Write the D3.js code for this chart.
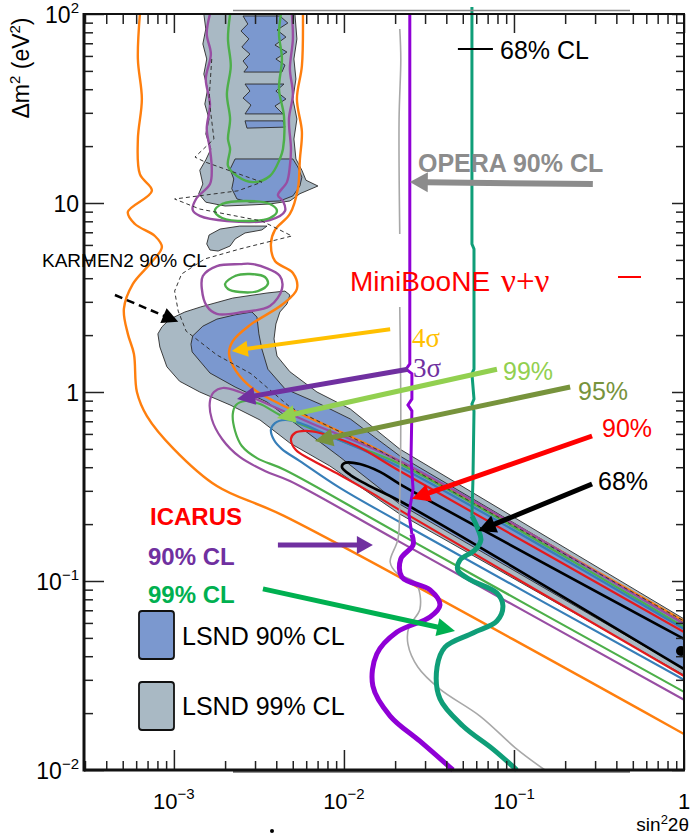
<!DOCTYPE html>
<html><head><meta charset="utf-8">
<script src="https://cdn.jsdelivr.net/npm/d3@7"></script>
<style>
html,body{margin:0;padding:0;background:#fff;}
svg{display:block;font-family:"Liberation Sans",Arial,Helvetica,sans-serif;}
</style></head><body>
<svg id="chart" width="690" height="835"></svg>
<script>
// ---- axes ----
const xDomain = [0.000296, 1];
const yDomain = [0.01, 100];
const xMajorTicks = [1e-3, 1e-2, 1e-1, 1];
const xTickLabels = [["10", "\u22123"], ["10", "\u22122"], ["10", "\u22121"], ["1", ""]];
const yMajorTicks = [0.01, 0.1, 1, 10, 100];
const yTickLabels = [["10", "\u22122"], ["10", "\u22121"], ["1", ""], ["10", ""], ["10", "2"]];

// ---- LSND allowed regions [sin^2 2theta, dm^2] ----
const lsnd99Band = [[0.000805,2.03],[0.00085,2.21],[0.000947,2.43],[0.00116,2.65],[0.00144,2.82],[0.00222,3.14],[0.00353,3.34],[0.0045,3.42],[0.00481,3.26],[0.00462,2.92],[0.0042,2.65],[0.00398,2.29],[0.00388,1.91],[0.00404,1.55],[0.00481,1.28],[0.00694,1.0],[0.0109,0.813],[0.0213,0.499],[1,0.063],[1,0.0318],[0.0213,0.226],[0.00827,0.406],[0.00481,0.537],[0.00321,0.711],[0.00214,0.854],[0.00142,1.0],[0.00108,1.14],[0.000909,1.36],[0.000827,1.73]];
const lsnd99Column = [[0.0015,100],[0.00154,83.3],[0.00148,69.4],[0.00156,57.8],[0.0015,48.1],[0.00158,40.1],[0.00152,33.4],[0.00161,27.8],[0.00154,23.2],[0.00165,19.3],[0.00154,16.9],[0.00142,14.9],[0.00148,12.6],[0.0014,11.2],[0.00154,10.1],[0.002,9.64],[0.0028,9.76],[0.00367,9.88],[0.00481,10.25],[0.00551,11.2],[0.00703,12.3],[0.00598,13.2],[0.00566,14.9],[0.00522,17.1],[0.00508,21.8],[0.00529,27.8],[0.00501,35.5],[0.00522,45.3],[0.00508,57.8],[0.00529,73.8],[0.00515,100]];
const lsnd99Island = [[0.00156,6.07],[0.00161,6.77],[0.00187,7.28],[0.00244,7.55],[0.00353,7.55],[0.00329,7.2],[0.00262,6.94],[0.00229,6.45],[0.00214,5.92],[0.00182,5.57],[0.00163,5.64]];
const lsnd90Band = [[0.00126,1.79],[0.00129,1.98],[0.00148,2.23],[0.00179,2.43],[0.00229,2.56],[0.00288,2.65],[0.00308,2.49],[0.00316,2.03],[0.00329,1.69],[0.00357,1.32],[0.0045,1.04],[0.00722,0.864],[0.0109,0.72],[0.0213,0.459],[1,0.06],[1,0.0342],[0.0213,0.255],[0.00947,0.453],[0.00551,0.653],[0.00353,0.885],[0.00229,1.063],[0.00163,1.26],[0.00128,1.63]];
const lsnd90BlockA = [[0.00255,97.6],[0.00272,88.5],[0.00248,81.3],[0.00276,73.8],[0.00251,66.9],[0.0028,61.4],[0.00255,56.4],[0.00272,52.4],[0.00258,49.3],[0.00432,49.3],[0.0045,53.7],[0.00398,57.8],[0.00462,62.9],[0.00393,68.5],[0.00456,75.5],[0.00404,82.3],[0.00468,89.6],[0.0042,97.6]];
const lsnd90BlockB = [[0.00262,42.6],[0.0028,39.1],[0.00255,35.9],[0.00284,33.0],[0.00262,29.6],[0.00438,29.6],[0.00393,32.6],[0.00456,35.5],[0.00398,39.1],[0.00444,42.6]];
const lsnd90BlockC = [[0.00262,27.2],[0.00438,27.2],[0.0045,25.2],[0.00269,24.9]];
const lsnd90BlockD = [[0.00229,17.1],[0.00214,15.1],[0.00225,13.4],[0.00219,11.9],[0.00235,10.5],[0.0028,10.1],[0.0042,10.25],[0.00501,10.9],[0.00551,12.3],[0.00566,13.7],[0.00536,15.5],[0.00501,17.1]];

// ---- MiniBooNE nu + nubar contours ----
const mb4sigmaOuter = [[0.000631,100],[0.000614,57.8],[0.000648,35.5],[0.000614,21.8],[0.000631,14.2],[0.000742,11.6],[0.000536,8.96],[0.00059,7.74],[0.000773,6.69],[0.00085,5.85],[0.000722,4.75],[0.000574,3.73],[0.000508,2.75],[0.000536,2.03],[0.000582,1.59],[0.000606,1.0],[0.000694,0.746],[0.001,0.499],[0.00179,0.318],[0.00444,0.221],[1,0.0155]];
const mb4sigmaInner = [[0.00574,100],[0.00566,53.1],[0.00529,35.5],[0.00566,23.8],[0.00551,17.1],[0.00536,11.9],[0.00481,8.75],[0.00393,7.2],[0.00372,6.07],[0.00393,4.93],[0.00501,4.26],[0.00529,3.51],[0.00438,2.92],[0.0028,2.26],[0.00222,1.86],[0.00211,1.59],[0.00232,1.29],[0.00292,1.04],[0.0042,0.864],[0.00827,0.653],[0.0163,0.488],[1,0.0614]];
const mb3sigmaColumn = [[0.00163,100],[0.00156,78.4],[0.00165,61.4],[0.00154,45.3],[0.00163,33.4],[0.00156,24.6],[0.00163,19.3],[0.00167,15.1],[0.00163,12.6],[0.00135,10.5],[0.00129,9.18],[0.00142,8.54],[0.00205,8.03],[0.00367,8.13],[0.0045,9.07],[0.00438,10.25],[0.00409,11.0],[0.00462,12.9],[0.00481,15.7],[0.00488,19.3],[0.00475,27.8],[0.00501,37.7],[0.00481,51.2],[0.00501,73.8],[0.00494,100]];
const mb3sigmaLoop = [[0.00244,4.75],[0.00292,4.75],[0.0042,4.11],[0.00432,3.51],[0.00367,2.85],[0.00255,2.65],[0.00179,2.59],[0.00156,2.85],[0.00146,3.51],[0.00148,4.11],[0.00179,4.64]];
const mb3sigmaBand = [[1,0.0592],[0.0213,0.431],[0.00657,0.677],[0.00334,0.885],[0.00244,1.0],[0.00194,1.05],[0.00172,1.0],[0.00163,0.896],[0.00167,0.72],[0.00192,0.564],[0.00244,0.453],[0.00343,0.382],[0.00481,0.338],[0.0213,0.161],[1,0.0235]];
const mb99Column = [[0.00214,100],[0.00208,73.8],[0.00216,53.1],[0.00205,37.7],[0.00214,27.8],[0.00208,21.8],[0.00214,19.3],[0.00208,15.7],[0.00235,13.9],[0.00292,12.9],[0.00367,13.9],[0.0042,17.1],[0.00438,19.3],[0.00444,28.8],[0.00415,40.1],[0.00432,57.8],[0.00415,78.4],[0.00426,100]];
const mb99Loop1 = [[0.00174,9.07],[0.00192,9.88],[0.00265,10.25],[0.00367,9.88],[0.00404,9.07],[0.00367,8.33],[0.00265,8.03],[0.00192,8.33]];
const mb99Loop2 = [[0.002,3.73],[0.00229,4.11],[0.0028,4.21],[0.00343,4.06],[0.00357,3.73],[0.00312,3.42],[0.00244,3.38],[0.00208,3.51]];
const mb99Band = [[1,0.0571],[0.0213,0.416],[0.0104,0.537],[0.0042,0.756],[0.00321,0.864],[0.00262,0.896],[0.00232,0.854],[0.00222,0.765],[0.00229,0.622],[0.00251,0.518],[0.00308,0.447],[0.0045,0.387],[0.0213,0.177],[1,0.0259]];
const mb95Band = [[1,0.0557],[0.0213,0.401],[0.00827,0.585],[0.00551,0.685],[0.0045,0.711],[0.00393,0.685],[0.00372,0.63],[0.00388,0.557],[0.00432,0.499],[0.00551,0.431],[0.00947,0.311],[0.0213,0.205],[1,0.03]];
const mb90Band = [[1,0.0537],[0.0213,0.382],[0.0119,0.518],[0.00722,0.607],[0.0059,0.622],[0.00515,0.607],[0.00488,0.564],[0.00522,0.493],[0.00631,0.442],[0.00947,0.364],[0.0142,0.296],[0.0213,0.237],[1,0.0314]];
const mb68Band = [[1,0.0494],[0.0213,0.326],[0.0163,0.378],[0.0124,0.416],[0.0101,0.421],[0.00973,0.401],[0.0109,0.364],[0.0142,0.318],[0.0213,0.265],[1,0.0342]];
const mbBestFit = [0.96, 0.0426];

// ---- KARMEN2 90% CL ----
const karmen2 = [[0.00167,57.8],[0.00161,35.5],[0.00172,21.8],[0.00133,17.5],[0.00152,16.5],[0.00329,12.9],[0.00238,11.6],[0.00101,10.5],[0.00142,9.29],[0.00329,8.03],[0.00494,6.69],[0.00244,5.71],[0.00152,5.06],[0.00111,4.21],[0.00101,3.42],[0.00106,2.68],[0.00118,2.10],[0.00179,1.57],[0.00284,1.25],[0.00481,0.833],[0.00827,0.653],[0.0163,0.488],[1,0.0614]];

// ---- ICARUS limits ----
const icarus90Upper = [[0.0244,100],[0.0244,1.41],[0.0232,1.32],[0.0251,1.25],[0.0251,0.918],[0.0238,0.854],[0.0251,0.793],[0.0248,0.442],[0.0255,0.307],[0.0241,0.226],[0.0251,0.177]];
const icarus90Lower = [[0.0251,0.177],[0.0255,0.155],[0.0216,0.131],[0.0219,0.105],[0.0321,0.0897],[0.0367,0.0746],[0.0321,0.0645],[0.0205,0.0537],[0.0156,0.0411],[0.0148,0.0278],[0.0187,0.0193],[0.028,0.0142],[0.0438,0.01]];
const icarus99Upper = [[0.0566,109],[0.0566,6.07],[0.0582,5.71],[0.0582,1.32],[0.0566,1.25],[0.0582,0.918],[0.0566,0.864],[0.0582,0.793],[0.0574,0.347],[0.0566,0.221]];
const icarus99Lower = [[0.0566,0.221],[0.0614,0.188],[0.0639,0.165],[0.059,0.146],[0.0481,0.129],[0.0468,0.114],[0.0559,0.101],[0.0794,0.0864],[0.0861,0.0738],[0.0794,0.0614],[0.0574,0.0531],[0.0393,0.0447],[0.0353,0.0351],[0.0367,0.0238],[0.0501,0.0171],[0.0752,0.0129],[0.104,0.01]];

// ---- OPERA 90% CL ----
const operaUpper = [[0.0213,83.3],[0.0216,57.8],[0.0211,27.8],[0.0213,6.85]];
const operaLower = [[0.0213,2.82],[0.0216,0.72],[0.0213,0.272],[0.0208,0.167],[0.0187,0.126],[0.0205,0.110],[0.0265,0.0976],[0.028,0.0711],[0.0241,0.0571],[0.0238,0.0464],[0.0272,0.0351],[0.0367,0.0268],[0.0631,0.0193],[0.104,0.0129],[0.152,0.01]];

// ---- annotation arrows: [from, to] ----
const arrowOpera = [[0.291,12.6],[0.0244,12.9]];
const arrow4sigma = [[0.0187,2.15],[0.00219,1.65]];
const arrow3sigma = [[0.0238,1.32],[0.00235,0.918]];
const arrow99 = [[0.0794,1.32],[0.00404,0.729]];
const arrow95 = [[0.214,1.063],[0.00675,0.55]];
const arrow90 = [[0.288,0.585],[0.0251,0.272]];
const arrow68 = [[0.288,0.326],[0.0614,0.184]];
const arrowKarmen = [[0.00045,3.26],[0.00106,2.35]];
const arrowIcarus90 = [[0.00409,0.155],[0.0148,0.155]];
const arrowIcarus99 = [[0.00334,0.0908],[0.045,0.0544]];
const legend68Line = [[0.0468,65.3],[0.0752,65.3]];

// ---- colours ----
const C = {
  lsnd99: "#a9b9c4", lsnd90: "#7b98cf", edge: "#2a2a2a",
  orange: "#ff7f0e", purple: "#984ea3", green: "#4daf4a", blue: "#377eb8", red: "#e41a1c",
  icarus90: "#8f00d6", icarus99: "#0f9e78", opera: "#a8a8a8"
};

const svg = d3.select("#chart");
const x = d3.scaleLog().domain(xDomain).range([84, 684]);
const y = d3.scaleLog().domain(yDomain).range([770, 14]);

const lin = d3.line().x(d => x(d[0])).y(d => y(d[1]));
const smooth = d3.line().x(d => x(d[0])).y(d => y(d[1])).curve(d3.curveCatmullRom.alpha(0.5));
const smoothClosed = d3.line().x(d => x(d[0])).y(d => y(d[1])).curve(d3.curveCatmullRomClosed.alpha(0.5));

svg.append("defs").append("clipPath").attr("id", "plotclip")
  .append("rect").attr("x", x(xDomain[0])).attr("y", y(yDomain[1]))
  .attr("width", x(xDomain[1]) - x(xDomain[0])).attr("height", y(yDomain[0]) - y(yDomain[1]));

const plot = svg.append("g").attr("clip-path", "url(#plotclip)");

// LSND 99% regions
[lsnd99Band, lsnd99Column, lsnd99Island].forEach(p => {
  plot.append("path").attr("d", lin(p) + "Z").attr("fill", C.lsnd99)
    .attr("stroke", C.edge).attr("stroke-width", 0.9).attr("stroke-linejoin", "round");
});
// LSND 90% regions
[lsnd90Band, lsnd90BlockA, lsnd90BlockB, lsnd90BlockC, lsnd90BlockD].forEach(p => {
  plot.append("path").attr("d", lin(p) + "Z").attr("fill", C.lsnd90)
    .attr("stroke", C.edge).attr("stroke-width", 0.9).attr("stroke-linejoin", "round");
});

// MiniBooNE contours
function contour(pts, color, w, closed) {
  plot.append("path").attr("d", closed ? smoothClosed(pts) : smooth(pts))
    .attr("fill", "none").attr("stroke", color).attr("stroke-width", w)
    .attr("stroke-linejoin", "round").attr("stroke-linecap", "round");
}
contour(mb3sigmaColumn, C.purple, 2.4);
contour(mb3sigmaLoop, C.purple, 2.4, true);
contour(mb99Column, C.green, 2.4);
contour(mb99Loop1, C.green, 2.4, true);
contour(mb99Loop2, C.green, 2.4, true);
contour(mb4sigmaOuter, C.orange, 2.4);
contour(mb4sigmaInner, C.orange, 2.4);
contour(mb3sigmaBand, C.purple, 2.2);
contour(mb99Band, C.green, 2.2);
contour(mb95Band, C.blue, 2.2);
contour(mb90Band, C.red, 2.2);
contour(mb68Band, "#000", 2.6);
plot.append("circle").attr("cx", x(mbBestFit[0])).attr("cy", y(mbBestFit[1])).attr("r", 5).attr("fill", "#000");

// KARMEN2
plot.append("path").attr("d", lin(karmen2)).attr("fill", "none").attr("stroke", "#333")
  .attr("stroke-width", 1).attr("stroke-dasharray", "4,3");

// OPERA
[operaUpper, operaLower].forEach(p => {
  plot.append("path").attr("d", smooth(p)).attr("fill", "none").attr("stroke", C.opera).attr("stroke-width", 1.6);
});

// ICARUS
const limits = svg.append("g");
limits.append("path").attr("d", lin(icarus90Upper)).attr("fill", "none").attr("stroke", C.icarus90).attr("stroke-width", 3);
limits.append("path").attr("d", smooth(icarus90Lower)).attr("fill", "none").attr("stroke", C.icarus90).attr("stroke-width", 5).attr("stroke-linejoin", "round");
limits.append("path").attr("d", lin(icarus99Upper)).attr("fill", "none").attr("stroke", C.icarus99).attr("stroke-width", 3);
limits.append("path").attr("d", smooth(icarus99Lower)).attr("fill", "none").attr("stroke", C.icarus99).attr("stroke-width", 5).attr("stroke-linejoin", "round");

// frame and ticks
const frame = svg.append("g");
const minorX = d3.range(-4, 1).flatMap(d => d3.range(2, 10).map(k => k * Math.pow(10, d))).filter(v => v > xDomain[0] && v < xDomain[1]);
const minorY = d3.range(-2, 2).flatMap(d => d3.range(2, 10).map(k => k * Math.pow(10, d)));
function axis(gen, tx, ty, vals, size) {
  const g = frame.append("g").attr("transform", `translate(${tx},${ty})`)
    .call(gen.tickValues(vals).tickSize(size).tickFormat(""));
  g.select(".domain").remove();
  g.selectAll(".tick line").attr("stroke", "#222").attr("stroke-width", 1.5);
}
axis(d3.axisBottom(x), 0, y(yDomain[0]), xMajorTicks, -20);
axis(d3.axisBottom(x), 0, y(yDomain[0]), minorX, -9);
axis(d3.axisTop(x), 0, y(yDomain[1]), xMajorTicks, -19);
axis(d3.axisTop(x), 0, y(yDomain[1]), minorX, -10);
axis(d3.axisLeft(y), x(xDomain[0]), 0, yMajorTicks, -20);
axis(d3.axisLeft(y), x(xDomain[0]), 0, minorY, -9);
axis(d3.axisRight(y), x(xDomain[1]), 0, yMajorTicks, -12);
axis(d3.axisRight(y), x(xDomain[1]), 0, minorY, -8);

const X0 = x(xDomain[0]), X1 = x(xDomain[1]), Y0 = y(yDomain[0]), Y1 = y(yDomain[1]);
frame.append("line").attr("x1", X0).attr("x2", X0).attr("y1", Y1 - 1).attr("y2", Y0 + 1.5).attr("stroke", "#111").attr("stroke-width", 3);
frame.append("line").attr("x1", X0).attr("x2", X1 + 1).attr("y1", Y0).attr("y2", Y0).attr("stroke", "#111").attr("stroke-width", 3);
frame.append("line").attr("x1", X0).attr("x2", X1 + 1).attr("y1", Y1).attr("y2", Y1).attr("stroke", "#111").attr("stroke-width", 2);
frame.append("line").attr("x1", X1).attr("x2", X1).attr("y1", Y1).attr("y2", Y0).attr("stroke", "#111").attr("stroke-width", 2);
frame.append("line").attr("x1", 233).attr("x2", 630).attr("y1", Y1 - 3.5).attr("y2", Y1 - 3.5).attr("stroke", "#888").attr("stroke-width", 1.5);
frame.append("line").attr("x1", 233).attr("x2", 630).attr("y1", Y0 + 1.8).attr("y2", Y0 + 1.8).attr("stroke", "#222").attr("stroke-width", 1.2);

// tick labels
const lab = svg.append("g").attr("fill", "#000").attr("font-size", 22);
xMajorTicks.forEach((v, i) => {
  const t = lab.append("text").attr("x", x(v)).attr("y", 809).attr("text-anchor", "middle");
  t.append("tspan").text(xTickLabels[i][0]);
  if (xTickLabels[i][1]) t.append("tspan").attr("dy", -10).attr("font-size", 15).text(xTickLabels[i][1]);
});
yMajorTicks.forEach((v, i) => {
  const t = lab.append("text").attr("x", 79).attr("y", y(v) + 9).attr("text-anchor", "end").attr("font-size", 23);
  t.append("tspan").text(yTickLabels[i][0]);
  if (yTickLabels[i][1]) t.append("tspan").attr("dy", -10).attr("font-size", 15).text(yTickLabels[i][1]);
});
// axis titles
const xt = lab.append("text").attr("x", 689).attr("y", 831).attr("text-anchor", "end").attr("font-size", 19);
xt.append("tspan").text("sin");
xt.append("tspan").attr("dy", -7).attr("font-size", 13).text("2");
xt.append("tspan").attr("dy", 7).text("2\u03b8");
const yt = lab.append("text").attr("transform", "translate(29,68) rotate(-90)").attr("text-anchor", "middle").attr("font-size", 23);
yt.append("tspan").text("\u0394m");
yt.append("tspan").attr("dy", -9).attr("font-size", 15).text("2");
yt.append("tspan").attr("dy", 9).text(" (eV");
yt.append("tspan").attr("dy", -9).attr("font-size", 15).text("2");
yt.append("tspan").attr("dy", 9).text(")");
svg.append("circle").attr("cx", 272).attr("cy", 831).attr("r", 2).attr("fill", "#000");

// arrows
const ann = svg.append("g");
function arrow(pts, color, w, L, W, dash) {
  const x0 = x(pts[0][0]), y0 = y(pts[0][1]), x1 = x(pts[1][0]), y1 = y(pts[1][1]);
  const dx = x1 - x0, dy = y1 - y0, len = Math.hypot(dx, dy), ux = dx / len, uy = dy / len;
  const bx = x1 - ux * L, by = y1 - uy * L;
  const l = ann.append("line").attr("x1", x0).attr("y1", y0).attr("x2", bx + ux * 2).attr("y2", by + uy * 2)
    .attr("stroke", color).attr("stroke-width", w);
  if (dash) l.attr("stroke-dasharray", dash);
  ann.append("path").attr("d", `M${x1},${y1}L${bx - uy * W},${by + ux * W}L${bx + uy * W},${by - ux * W}Z`).attr("fill", color);
}
arrow(arrowOpera, "#8c8c8c", 6, 18, 10);
arrow(arrow4sigma, "#ffc000", 4, 16, 8);
arrow(arrow3sigma, "#7030a0", 5, 18, 9);
arrow(arrow99, "#92d050", 5, 18, 9);
arrow(arrow95, "#77933c", 5, 18, 9);
arrow(arrow90, "#ff0000", 5, 18, 9);
arrow(arrow68, "#000", 5, 18, 9);
arrow(arrowKarmen, "#000", 2.5, 16, 8, "8,5");
arrow(arrowIcarus90, "#7030a0", 5, 16, 9);
arrow(arrowIcarus99, "#00b050", 5, 18, 9);
ann.append("line").attr("x1", x(legend68Line[0][0])).attr("x2", x(legend68Line[1][0]))
  .attr("y1", y(legend68Line[0][1])).attr("y2", y(legend68Line[1][1])).attr("stroke", "#000").attr("stroke-width", 2);

// annotation text
const txt = (s, px, py, opt = {}) => {
  const t = svg.append("text").attr("x", px).attr("y", py).text(s)
    .attr("font-size", opt.size || 22).attr("fill", opt.color || "#000");
  if (opt.bold) t.attr("font-weight", "bold");
  if (opt.serif) t.attr("font-family", "'Liberation Serif','Times New Roman',serif");
  return t;
};
txt("68% CL", 500, 59, {size: 25});
txt("OPERA 90% CL", 418, 172, {size: 25, bold: true, color: "#8c8c8c"});
txt("KARMEN2 90% CL", 42, 267, {size: 19});
txt("MiniBooNE", 350, 291, {size: 28, color: "#ff0000"});
txt("\u03bd+\u03bd", 501, 292, {size: 33, color: "#ff0000", serif: true});
svg.append("line").attr("x1", 618).attr("x2", 641).attr("y1", 277).attr("y2", 277).attr("stroke", "#ff0000").attr("stroke-width", 2);
txt("4\u03c3", 412, 347, {size: 27, color: "#ffc000", serif: true});
txt("3\u03c3", 413, 377, {size: 27, color: "#7030a0", serif: true});
txt("99%", 503, 380, {size: 25, color: "#92d050"});
txt("95%", 578, 400, {size: 25, color: "#77933c"});
txt("90%", 602, 437, {size: 25, color: "#ff0000"});
txt("68%", 598, 490, {size: 25, color: "#000"});
txt("ICARUS", 150, 525, {size: 24, bold: true, color: "#ff0000"});
txt("90% CL", 148, 565, {size: 24, bold: true, color: "#7030a0"});
txt("99% CL", 148, 603, {size: 24, bold: true, color: "#00b050"});

// legend
const leg = svg.append("g");
[[C.lsnd90, 611, "LSND 90% CL", 645], [C.lsnd99, 682, "LSND 99% CL", 715]].forEach(([c, ty, s, by]) => {
  leg.append("rect").attr("x", 139).attr("y", ty).attr("width", 35).attr("height", 48).attr("rx", 3)
    .attr("fill", c).attr("stroke", "#111").attr("stroke-width", 1.8);
  leg.append("text").attr("x", 182).attr("y", by).attr("font-size", 25).text(s);
});
</script>
</body></html>
